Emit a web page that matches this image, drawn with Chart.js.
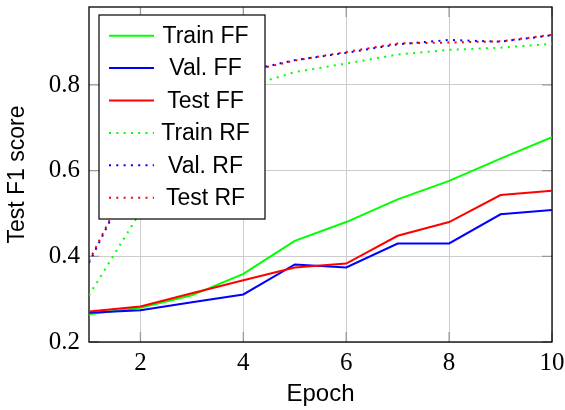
<!DOCTYPE html>
<html>
<head>
<meta charset="utf-8">
<script src="https://cdn.jsdelivr.net/npm/chart.js@4"></script>
<style>
html,body{margin:0;padding:0;background:#fff;}
canvas{display:block;}
</style>
</head>
<body>
<canvas id="c" width="565" height="410"></canvas>
<script>
const epochs = [1, 2, 3, 4, 5, 6, 7, 8, 9, 10];
const trainFF = [0.265, 0.280, 0.309, 0.359, 0.436, 0.480, 0.533, 0.576, 0.628, 0.678];
const valFF   = [0.268, 0.274, 0.293, 0.311, 0.381, 0.374, 0.430, 0.430, 0.498, 0.508];
const testFF  = [0.271, 0.283, 0.314, 0.344, 0.374, 0.383, 0.448, 0.480, 0.543, 0.553];
const trainRF = [0.309, 0.504, 0.720, 0.794, 0.830, 0.850, 0.871, 0.882, 0.887, 0.896];
const valRF   = [0.385, 0.625, 0.780, 0.831, 0.858, 0.875, 0.895, 0.905, 0.901, 0.916];
const testRF  = [0.389, 0.628, 0.780, 0.829, 0.857, 0.877, 0.897, 0.899, 0.902, 0.917];
const seriesNames = ['Train FF', 'Val. FF', 'Test FF', 'Train RF', 'Val. RF', 'Test RF'];
const xTicks = [2, 4, 6, 8, 10];
const yTicks = [0.2, 0.4, 0.6, 0.8];
const yTickLabels = ['0.2', '0.4', '0.6', '0.8'];
const xTitle = 'Epoch';
const yTitle = 'Test F1 score';

const GREEN = '#00ff00', BLUE = '#0000ff', RED = '#ff0000';
const DOT = [2, 5.3];
const SANS = '"Liberation Sans", Arial, sans-serif';
const SERIF = '"Liberation Serif", "Times New Roman", serif';

function ds(label, values, color, dashed, order) {
  return {
    label: label,
    data: epochs.map((e, i) => ({x: e, y: values[i]})),
    borderColor: color,
    backgroundColor: color,
    borderWidth: 2,
    borderDash: dashed ? DOT : [],
    borderCapStyle: 'butt',
    pointRadius: 0,
    tension: 0,
    fill: false,
    order: order
  };
}

const frameAndTicks = {
  id: 'frameTicks',
  beforeDatasetsDraw(chart) {
    const {ctx, chartArea: a, scales} = chart;
    ctx.save();
    ctx.strokeStyle = '#999999';
    ctx.lineWidth = 1.3;
    const tl = 10;
    xTicks.forEach(v => {
      const px = scales.x.getPixelForValue(v);
      ctx.beginPath();
      ctx.moveTo(px, a.bottom); ctx.lineTo(px, a.bottom - tl);
      ctx.moveTo(px, a.top); ctx.lineTo(px, a.top + tl);
      ctx.stroke();
    });
    yTicks.forEach(v => {
      const py = scales.y.getPixelForValue(v);
      ctx.beginPath();
      ctx.moveTo(a.left, py); ctx.lineTo(a.left + tl, py);
      ctx.moveTo(a.right, py); ctx.lineTo(a.right - tl, py);
      ctx.stroke();
    });
    ctx.strokeStyle = '#000000';
    ctx.lineWidth = 1.3;
    ctx.strokeRect(a.left, a.top, a.right - a.left, a.bottom - a.top);
    ctx.restore();
  }
};

const pgfLegend = {
  id: 'pgfLegend',
  afterDatasetsDraw(chart) {
    const {ctx, chartArea: a} = chart;
    const x0 = a.left + 10, y0 = a.top + 8, w = 166, h = 204;
    ctx.save();
    ctx.fillStyle = '#ffffff';
    ctx.fillRect(x0, y0, w, h);
    ctx.strokeStyle = '#000000';
    ctx.lineWidth = 1.2;
    ctx.strokeRect(x0, y0, w, h);
    ctx.font = '23px ' + SANS;
    ctx.textAlign = 'center';
    ctx.textBaseline = 'middle';
    chart.data.datasets.forEach((d, i) => {
      const y = y0 + 20.7 + i * 32.4;
      ctx.beginPath();
      ctx.strokeStyle = d.borderColor;
      ctx.lineWidth = 2;
      ctx.lineCap = 'butt';
      ctx.setLineDash(d.borderDash || []);
      ctx.moveTo(x0 + 10, y);
      ctx.lineTo(x0 + 55, y);
      ctx.stroke();
      ctx.setLineDash([]);
      ctx.fillStyle = '#000000';
      ctx.fillText(d.label, x0 + 106.5, y + 1);
    });
    ctx.restore();
  }
};

new Chart(document.getElementById('c'), {
  type: 'line',
  data: {
    datasets: [
      ds(seriesNames[0], trainFF, GREEN, false, 5),
      ds(seriesNames[1], valFF, BLUE, false, 4),
      ds(seriesNames[2], testFF, RED, false, 3),
      ds(seriesNames[3], trainRF, GREEN, true, 2),
      ds(seriesNames[4], valRF, BLUE, true, 1),
      ds(seriesNames[5], testRF, RED, true, 0)
    ]
  },
  options: {
    responsive: false,
    animation: false,
    devicePixelRatio: 1,
    layout: {padding: {top: 7, right: 13, left: 0, bottom: 0}},
    plugins: {legend: {display: false}, tooltip: {enabled: false}},
    scales: {
      x: {
        type: 'linear',
        min: 1, max: 10,
        afterBuildTicks: s => { s.ticks = xTicks.map(v => ({value: v})); },
        afterFit: s => { s.height = 68; s.paddingLeft = 0; s.paddingRight = 0; },
        grid: {color: '#cccccc', lineWidth: 1, drawTicks: false},
        border: {display: false},
        ticks: {
          font: {family: SERIF, size: 25},
          color: '#000000',
          padding: 6,
          maxRotation: 0,
          autoSkip: false,
          callback: v => String(v)
        },
        title: {
          display: true, text: xTitle, color: '#000000',
          font: {family: SANS, size: 24},
          padding: {top: 0, bottom: 1}
        }
      },
      y: {
        type: 'linear',
        min: 0.2, max: 0.982,
        afterBuildTicks: s => { s.ticks = yTicks.map(v => ({value: v})); },
        afterFit: s => { s.width = 89; s.paddingTop = 0; s.paddingBottom = 0; },
        grid: {color: '#cccccc', lineWidth: 1, drawTicks: false},
        border: {display: false},
        ticks: {
          font: {family: SERIF, size: 25},
          color: '#000000',
          padding: 9,
          autoSkip: false,
          callback: (v) => { const k = yTicks.findIndex(t => Math.abs(t - v) < 1e-9); return k >= 0 ? yTickLabels[k] : ''; }
        },
        title: {
          display: true, text: yTitle, color: '#000000',
          font: {family: SANS, size: 23},
          padding: {top: 4, bottom: 0}
        }
      }
    }
  },
  plugins: [frameAndTicks, pgfLegend]
});
</script>
</body>
</html>
